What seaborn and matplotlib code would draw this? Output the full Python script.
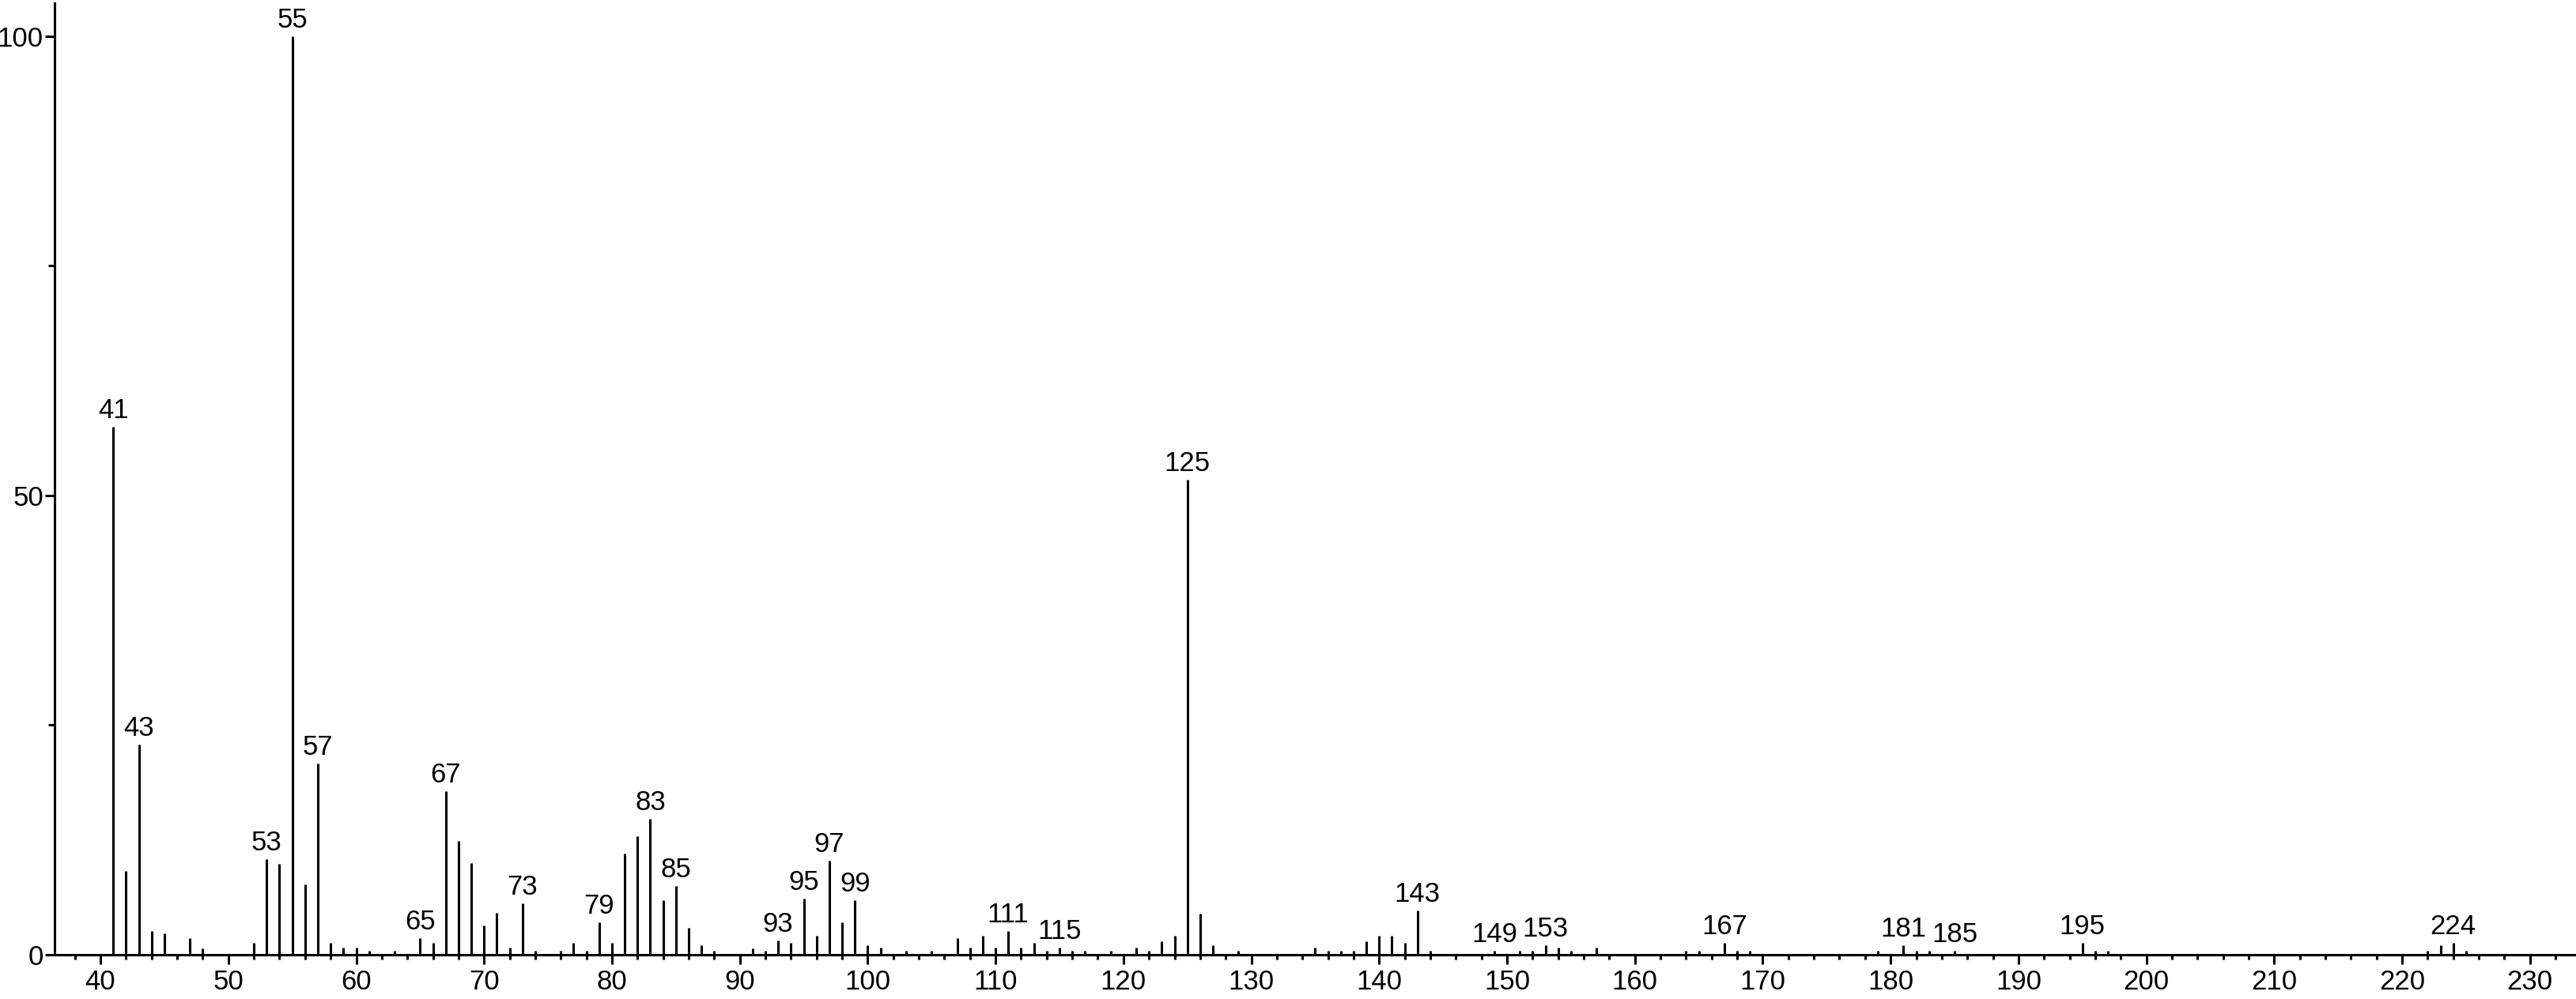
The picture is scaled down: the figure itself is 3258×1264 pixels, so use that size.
import matplotlib
matplotlib.use("Agg")
import matplotlib.pyplot as plt
import seaborn as sns
import pandas as pd
from matplotlib.ticker import MultipleLocator, FixedLocator

# ---- data (m/z, relative intensity) ----
mz = [41, 42, 43, 44, 45, 47, 48, 52, 53, 54, 55, 56, 57, 58, 59, 60, 61, 63,
      65, 66, 67, 68, 69, 70, 71, 72, 73, 74, 76, 77, 78, 79, 80, 81, 82, 83,
      84, 85, 86, 87, 88, 91, 92, 93, 94, 95, 96, 97, 98, 99, 100, 101, 103,
      105, 107, 108, 109, 110, 111, 112, 113, 114, 115, 116, 117, 119, 121,
      122, 123, 124, 125, 126, 127, 129, 135, 136, 137, 138, 139, 140, 141,
      142, 143, 144, 149, 151, 152, 153, 154, 155, 157, 164, 165, 167, 168,
      169, 179, 181, 182, 183, 185, 195, 196, 197, 222, 223, 224, 225]
intensity = [57.5, 9.1, 22.9, 2.6, 2.3, 1.8, 0.7, 1.3, 10.4, 9.9, 100.0, 7.7,
             20.8, 1.3, 0.75, 0.75, 0.45, 0.45,
             1.8, 1.3, 17.8, 12.4, 10.0, 3.2, 4.6, 0.75, 5.6, 0.45, 0.45, 1.3,
             0.45, 3.5, 1.3, 11.0, 12.9, 14.8,
             5.9, 7.5, 2.9, 1.0, 0.4, 0.7, 0.45, 1.55, 1.3, 6.1, 2.1, 10.2, 3.5,
             5.9, 1.0, 0.75, 0.4,
             0.4, 1.8, 0.75, 2.1, 0.75, 2.6, 0.75, 1.3, 0.45, 0.75, 0.45, 0.4,
             0.4, 0.75,
             0.45, 1.5, 2.1, 51.7, 4.5, 1.0, 0.45, 0.75, 0.45, 0.45, 0.45, 1.5,
             2.1, 2.1,
             1.3, 4.8, 0.45, 0.45, 0.45, 0.45, 1.0, 0.75, 0.45, 0.75, 0.45,
             0.45, 1.3, 0.45,
             0.45, 0.45, 1.0, 0.45, 0.45, 0.45, 1.3, 0.45, 0.45, 0.45, 1.0, 1.3,
             0.45]
labeled_mz = [41, 43, 53, 55, 57, 65, 67, 73, 79, 83, 85, 93, 95, 97, 99, 111,
              115, 125, 143, 149, 153, 167, 181, 185, 195, 224]
x_ticks = list(range(40, 231, 10))
y_ticks = [0, 50, 100]

# ---- style ----
sns.set_theme(style="ticks")
plt.rcParams['font.family'] = ['Liberation Sans', 'DejaVu Sans']

df = pd.DataFrame({"mz": mz, "intensity": intensity})

W, H = 3258, 1264
fig = plt.figure(figsize=(W / 100, H / 100), dpi=100)
fig.patch.set_facecolor("white")
ax = fig.add_axes([69 / W, 56 / H, 1 - 69 / W, (1208 - 4) / H])
ax.set_facecolor("white")

ax.vlines(df["mz"], 0, df["intensity"], color="black", linewidth=2.2)

lookup = dict(zip(mz, intensity))
for m in labeled_mz:
    ax.annotate(str(m), xy=(m, lookup[m]), xytext=(0, 3),
                textcoords="offset points", ha="center", va="bottom",
                fontsize=25, color="black")

ax.set_xlim(36.41, 233.6)
ax.set_ylim(0, 103.6)
ax.xaxis.set_major_locator(FixedLocator(x_ticks))
ax.xaxis.set_minor_locator(MultipleLocator(2))
ax.yaxis.set_major_locator(FixedLocator(y_ticks))
ax.yaxis.set_minor_locator(FixedLocator([25, 75]))
ax.set_xticklabels([str(t) for t in x_ticks])
ax.set_yticklabels([str(t) for t in y_ticks])

ax.tick_params(axis="x", which="major", length=8.6, width=2.2, direction="out",
               labelsize=25, pad=4, colors="black")
ax.tick_params(axis="x", which="minor", length=4.0, width=2.2, direction="out",
               colors="black")
ax.tick_params(axis="y", which="major", length=8.6, width=2.2, direction="out",
               labelsize=25, pad=1.5, colors="black")
ax.tick_params(axis="y", which="minor", length=6.0, width=2.2, direction="out",
               colors="black")

sns.despine(ax=ax, top=True, right=True)
for side in ["left", "bottom"]:
    ax.spines[side].set_linewidth(2.2)
    ax.spines[side].set_color("black")
ax.set_xlabel("")
ax.set_ylabel("")
ax.grid(False)

fig.savefig("out.png", dpi=100, facecolor="white")
